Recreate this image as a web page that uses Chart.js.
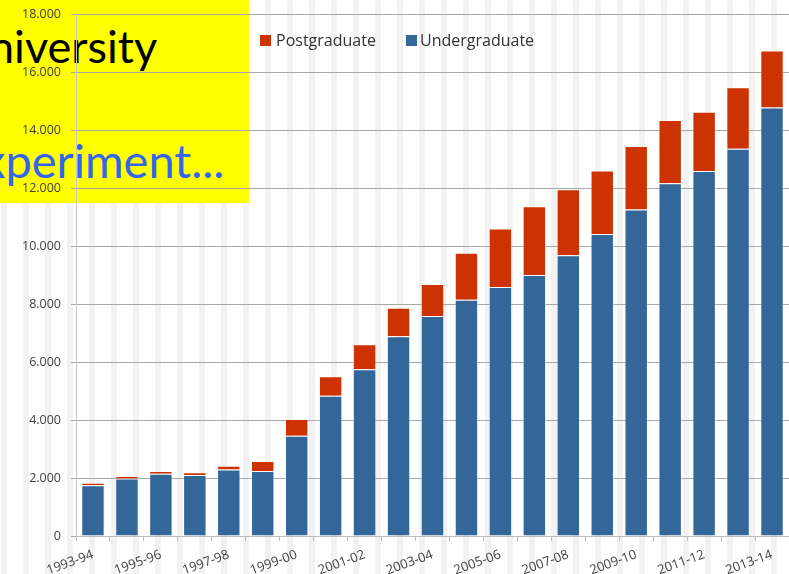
<!DOCTYPE html>
<html>
<head>
<meta charset="utf-8">
<script src="https://cdn.jsdelivr.net/npm/chart.js@4"></script>
<style>
    html, body { margin: 0; padding: 0; }
    body {
        width: 789px; height: 574px; overflow: hidden; position: relative;
        background: repeating-linear-gradient(to right, #fff 0 1px, #f2f2f2 1px 7px, #fff 7px 22px);
        font-family: "Open Sans", sans-serif;
    }
    #note {
        position: absolute; left: 0; top: 0; width: 249px; height: 203px;
        background: #ffff00; overflow: hidden;
    }
    #note .l1, #note .l2 { position: absolute; font-family: Lato, sans-serif; white-space: nowrap; }
    #note .l1 { left: -11px; top: 19px; font-size: 45px; color: #000; }
    #note .l2 { left: -18px; top: 132px; font-size: 47px; color: #3366ee; }
    #wrap { position: absolute; left: 0; top: 0; width: 789px; height: 574px; }
    #legend { position: absolute; top: 29px; left: 260px; font-size: 16px; color: #333; }
    #legend span.item { position: absolute; white-space: nowrap; top: 0; }
    #legend i { display: inline-block; width: 11px; height: 11px; vertical-align: 0px; }
</style>
</head>
<body>
<div id="note">
    <div class="l1">niversity</div>
    <div class="l2">xperiment...</div>
</div>
<div id="wrap"><canvas id="chart" width="789" height="574"></canvas></div>
<div id="legend">
    <span class="item" style="left:0"><i style="background:#cc3300;margin-right:5px"></i>Postgraduate</span>
    <span class="item" style="left:146px"><i style="background:#336699;margin-right:3px"></i>Undergraduate</span>
</div>
<script>
// academic years on the x axis
const years = ['1993-94', '1994-95', '1995-96', '1996-97', '1997-98', '1998-99', '1999-00',
               '2000-01', '2001-02', '2002-03', '2003-04', '2004-05', '2005-06', '2006-07',
               '2007-08', '2008-09', '2009-10', '2010-11', '2011-12', '2012-13', '2013-14'];

// student numbers
const undergraduate = [1750, 1980, 2150, 2100, 2290, 2240, 3460, 4840, 5750, 6890, 7590,
                       8150, 8590, 9000, 9680, 10410, 11260, 12160, 12590, 13350, 14780];
const postgraduate  = [90, 90, 90, 95, 135, 350, 575, 670, 865, 980, 1100,
                       1615, 2010, 2370, 2280, 2190, 2190, 2185, 2040, 2120, 1960];

const yMax  = 18000;
const yStep = 2000;

const blue = '#336699';
const red  = '#cc3300';
const textColor = '#404040';

function fmtDot(v) { return String(v).replace(/\B(?=(\d{3})+(?!\d))/g, '.'); }

const ctx = document.getElementById('chart').getContext('2d');
new Chart(ctx, {
    type: 'bar',
    data: {
        labels: years,
        datasets: [
            {
                label: 'Undergraduate',
                data: undergraduate,
                backgroundColor: blue,
                borderColor: 'rgba(255,255,255,0.35)',
                borderWidth: 1,
            },
            {
                label: 'Postgraduate',
                data: postgraduate,
                backgroundColor: red,
                borderColor: 'rgba(255,255,255,0.35)',
                borderWidth: 1,
            }
        ]
    },
    options: {
        responsive: false,
        animation: false,
        categoryPercentage: 1,
        barPercentage: 0.69,
        layout: { padding: { top: 14, right: 0, bottom: 0, left: 0 } },
        plugins: {
            legend: { display: false },
            tooltip: { enabled: false },
        },
        scales: {
            x: {
                stacked: true,
                grid: { offset: true, drawOnChartArea: false, drawTicks: true, tickLength: 5, color: '#bdbdbd' },
                border: { color: '#bdbdbd' },
                ticks: {
                    autoSkip: false,
                    minRotation: 20,
                    maxRotation: 20,
                    padding: 6,
                    color: textColor,
                    font: { family: 'Open Sans', size: 13 },
                    callback: (v, i) => i % 2 === 0 ? years[i] : '',
                },
                afterFit: s => { s.height = 38; s.paddingLeft = 0; s.paddingRight = 0; },
            },
            y: {
                stacked: true,
                min: 0,
                max: yMax,
                grid: { color: '#a8a8a8', tickLength: 5 },
                border: { color: '#c8c8c8' },
                ticks: {
                    stepSize: yStep,
                    padding: 10,
                    color: textColor,
                    font: { family: 'Open Sans', size: 12.5 },
                    callback: v => fmtDot(v),
                },
                afterFit: s => { s.width = 76; s.paddingTop = 0; s.paddingBottom = 0; },
            }
        }
    }
});
</script>
</body>
</html>
